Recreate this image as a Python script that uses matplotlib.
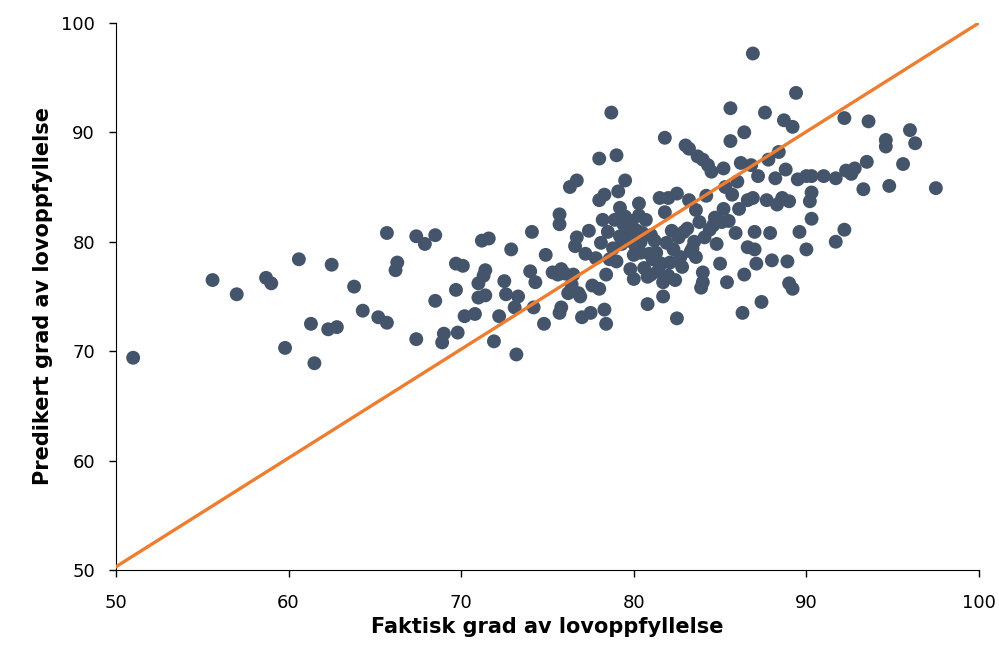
import matplotlib.pyplot as plt

# faktisk (x) og predikert (y) grad av lovoppfyllelse
faktisk = [51.0, 55.6, 57.0, 58.7, 59.0, 59.8, 60.6, 61.3, 61.5, 62.3, 62.5, 62.8, 63.8, 64.3,
           65.2, 65.7, 65.7, 66.2, 66.3, 67.4, 67.4, 67.9, 68.5, 68.5, 68.9, 69.0, 69.7, 69.7,
           69.8, 70.1, 70.2, 70.8, 71.0, 71.0, 71.2, 71.3, 71.4, 71.4, 71.6, 71.9, 72.2, 72.5,
           72.6, 72.9, 73.1, 73.2, 73.3, 74.0, 74.1, 74.2, 74.3, 74.8, 74.9, 75.3, 75.6,
           75.7, 75.7, 75.8, 75.7, 75.8, 76.0, 76.2, 76.3, 76.5, 76.7, 76.7, 76.6, 76.8, 76.9,
           77.0, 77.2, 77.4, 77.5, 77.8, 78.0, 78.0, 78.0, 78.1, 78.2, 78.3, 78.3, 78.4, 78.4,
           78.5, 78.6, 78.7, 78.9, 79.0, 79.1, 79.2, 79.5, 79.5, 79.6, 79.8, 79.9, 80.2, 80.3,
           80.4, 80.5, 80.7, 80.8, 81.0, 81.0, 81.3, 81.5, 81.6, 81.7, 81.7, 81.8, 82.0, 82.2,
           82.3, 82.4, 82.5, 82.5, 82.7, 82.8, 83.0, 83.2, 83.2, 83.4, 83.5, 83.6, 83.7, 83.8,
           83.9, 84.0, 84.0, 84.0, 84.1, 84.2, 84.3, 84.4, 84.5, 84.7, 84.8, 85.0, 85.1, 85.2,
           85.2, 85.3, 85.4, 85.6, 85.6, 85.7, 85.9, 86.0, 86.1, 86.2, 86.3, 86.4, 86.4, 86.6,
           86.6, 86.8, 86.9, 86.9, 87.0, 87.0, 87.1, 87.2, 87.4, 87.6, 87.7, 87.8, 87.9, 88.0,
           88.2, 88.3, 88.4, 88.6, 88.7, 88.8, 88.9, 89.0, 89.0, 89.2, 89.2, 89.4, 89.5, 89.6,
           90.0, 90.0, 90.2, 90.3, 90.3, 90.3, 91.0, 91.7, 91.7, 92.2, 92.2, 92.3, 92.6, 92.8,
           93.3, 93.5, 93.6, 94.6, 94.6, 94.8, 95.6, 96.0, 96.3, 97.5,
           # tett område i midten
           79.0, 79.3, 79.7, 80.0, 80.1, 80.6, 80.9, 81.2, 81.4, 81.9, 82.1, 82.6, 83.1, 83.3,
           80.3, 80.8, 81.1, 79.4, 78.8, 79.9, 81.5, 82.9, 83.6, 84.6, 85.5, 80.4, 81.8, 77.6,
           76.4, 79.2, 80.0, 82.0]
predikert = [69.4, 76.5, 75.2, 76.7, 76.2, 70.3, 78.4, 72.5, 68.9, 72.0, 77.9, 72.2, 75.9, 73.7,
             73.1, 72.6, 80.8, 77.4, 78.1, 71.1, 80.5, 79.8, 80.6, 74.6, 70.8, 71.6, 78.0, 75.6,
             71.7, 77.8, 73.2, 73.4, 76.2, 74.9, 80.1, 76.9, 77.4, 75.1, 80.3, 70.9, 73.2, 76.4,
             75.2, 79.3, 74.0, 69.7, 75.0, 77.3, 80.9, 74.0, 76.3, 72.5, 78.8, 77.2, 77.0,
             82.5, 81.6, 77.5, 73.5, 74.0, 77.1, 75.3, 85.0, 77.0, 85.6, 80.4, 79.6, 75.3, 75.0,
             73.1, 78.9, 81.0, 73.5, 78.5, 87.6, 83.8, 75.7, 79.9, 82.0, 84.3, 73.8, 72.5, 77.0,
             80.9, 78.4, 91.8, 82.0, 87.9, 84.6, 80.5, 85.6, 82.3, 81.2, 77.5, 80.0, 81.0, 83.5,
             79.0, 80.8, 82.0, 74.3, 77.0, 80.6, 79.0, 84.0, 78.0, 76.3, 75.0, 89.5, 84.0, 81.0,
             79.3, 76.5, 73.0, 84.4, 78.6, 77.7, 88.8, 83.8, 88.5, 79.4, 80.0, 78.6, 87.8, 81.8,
             75.8, 87.5, 77.2, 76.3, 80.4, 84.2, 87.0, 81.1, 86.4, 82.2, 79.8, 78.0, 81.8, 83.0,
             86.7, 85.0, 76.3, 89.2, 92.2, 84.3, 80.8, 85.5, 83.0, 87.2, 73.5, 77.0, 90.0, 83.8,
             79.5, 87.0, 97.2, 84.0, 80.9, 79.3, 78.0, 86.0, 74.5, 91.8, 83.8, 87.5, 80.8, 78.3,
             85.8, 83.4, 88.2, 84.0, 91.1, 86.6, 78.2, 83.7, 76.2, 90.5, 75.7, 93.6, 85.7, 80.9,
             79.3, 86.0, 83.7, 84.5, 82.1, 86.0, 86.0, 85.8, 80.0, 91.3, 81.1, 86.5, 86.2, 86.7,
             84.8, 87.3, 91.0, 89.3, 88.7, 85.1, 87.1, 90.2, 89.0, 84.9,
             78.2, 79.8, 80.6, 78.8, 79.6, 77.6, 78.9, 80.1, 77.3, 79.9, 78.1, 80.4, 81.2, 79.1,
             82.4, 76.8, 78.4, 81.6, 79.4, 81.9, 77.9, 80.9, 82.9, 81.5, 81.9, 80.0, 82.7, 76.0,
             76.1, 83.1, 76.6, 76.9]

fig = plt.figure(figsize=(9.99, 6.53), dpi=100)
ax = fig.add_axes([0.116, 0.127, 0.864, 0.838])

ax.scatter(faktisk, predikert, s=100, color='#44546a', edgecolors='none', zorder=2)
ax.plot([50, 100], [50.3, 100], color='#ed7d31', linewidth=2.4, zorder=3)

ax.set_xlim(50, 100)
ax.set_ylim(50, 100)
ax.set_xticks([50, 60, 70, 80, 90, 100])
ax.set_yticks([50, 60, 70, 80, 90, 100])
ax.tick_params(labelsize=13, direction='out', length=5, width=1)
ax.tick_params(axis='x', pad=12)
ax.tick_params(axis='y', pad=10)
ax.spines['top'].set_visible(False)
ax.spines['right'].set_visible(False)

ax.set_xlabel('Faktisk grad av lovoppfyllelse', fontsize=15, fontweight='bold', labelpad=4)
ax.set_ylabel('Predikert grad av lovoppfyllelse', fontsize=15, fontweight='bold', labelpad=6)

fig.savefig('out.png', dpi=100)
